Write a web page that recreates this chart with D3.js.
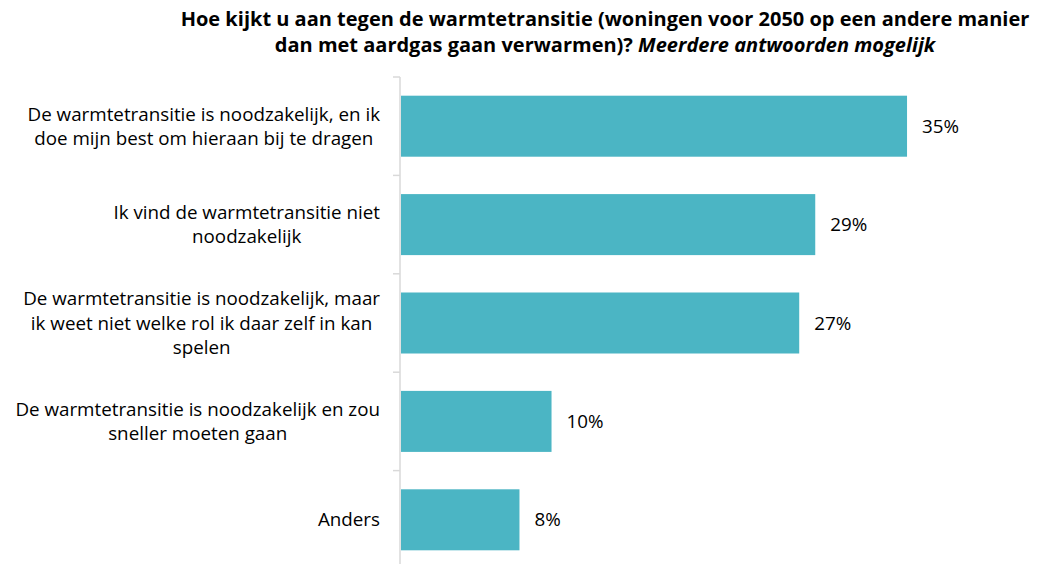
<!DOCTYPE html>
<html>
<head>
<meta charset="utf-8">
<script src="https://cdn.jsdelivr.net/npm/d3@7"></script>
<style>
  body { margin: 0; background: #fff; }
  svg text { font-family: "Open Sans", Lato, sans-serif; fill: #000; }
</style>
</head>
<body>
<svg id="chart" width="1037" height="564"></svg>
<script>
// data
const categories = [
  ["De warmtetransitie is noodzakelijk, en ik", "doe mijn best om hieraan bij te dragen"],
  ["Ik vind de warmtetransitie niet", "noodzakelijk"],
  ["De warmtetransitie is noodzakelijk, maar", "ik weet niet welke rol ik daar zelf in kan", "spelen"],
  ["De warmtetransitie is noodzakelijk en zou", "sneller moeten gaan"],
  ["Anders"]
];
const values = [34.8, 28.5, 27.4, 10.4, 8.2];
const titleLines = [
  [{t: "Hoe kijkt u aan tegen de warmtetransitie (woningen voor 2050 op een andere manier", i: false}],
  [{t: "dan met aardgas gaan verwarmen)? ", i: false}, {t: "Meerdere antwoorden mogelijk", i: true}]
];

const svg = d3.select("#chart");
const barColor = "#4bb5c4";
const axisX = 400;
const labelRight = 380;
const fontSize = 18.8;
const lineH = 24.5;

const x = d3.scaleLinear().domain([0, 40]).range([axisX, axisX + 40 * 14.57]);
const y = d3.scaleBand()
  .domain(d3.range(values.length))
  .range([77, 569])
  .paddingInner(0.38)
  .paddingOuter(0.19);

// title
const title = svg.append("text")
  .attr("text-anchor", "middle")
  .style("font-weight", "bold")
  .style("font-size", "20px");
titleLines.forEach((line, li) => {
  const t = title.append("tspan")
    .attr("x", 605)
    .attr("y", 26 + li * 26);
  line.forEach(part => {
    t.append("tspan")
      .style("font-style", part.i ? "italic" : "normal")
      .text(part.t);
  });
});

// bars
svg.append("g")
  .selectAll("rect")
  .data(values)
  .enter().append("rect")
  .attr("x", x(0) + 1)
  .attr("y", (d, i) => y(i))
  .attr("width", d => x(d) - x(0) - 1)
  .attr("height", y.bandwidth())
  .attr("fill", barColor);

// value labels
svg.append("g")
  .selectAll("text")
  .data(values)
  .enter().append("text")
  .attr("x", d => x(d) + 15)
  .attr("y", (d, i) => y(i) + y.bandwidth() / 2)
  .attr("dy", "0.35em")
  .style("font-size", fontSize + "px")
  .text(d => Math.round(d) + "%");

// axis line with ticks between categories
const axis = svg.append("g").attr("stroke", "#d9d9d9").attr("stroke-width", 1.5);
const r = y.range();
axis.append("line")
  .attr("x1", axisX).attr("x2", axisX)
  .attr("y1", r[0]).attr("y2", r[1]);
d3.range(values.length + 1).forEach(i => {
  const ty = r[0] + i * y.step();
  axis.append("line")
    .attr("x1", axisX - 7).attr("x2", axisX)
    .attr("y1", ty).attr("y2", ty);
});

// category labels: block right-aligned, lines centred inside the block
const labels = svg.append("g");
categories.forEach((lines, i) => {
  const g = labels.append("g");
  const cy = y(i) + y.bandwidth() / 2;
  const top = cy - (lines.length - 1) * lineH / 2;
  const texts = lines.map((l, k) => g.append("text")
    .attr("y", top + k * lineH)
    .attr("dy", "0.35em")
    .attr("text-anchor", "middle")
    .style("font-size", fontSize + "px")
    .text(l));
  const w = d3.max(texts, t => t.node().getComputedTextLength());
  texts.forEach(t => t.attr("x", labelRight - w / 2));
});
</script>
</body>
</html>
